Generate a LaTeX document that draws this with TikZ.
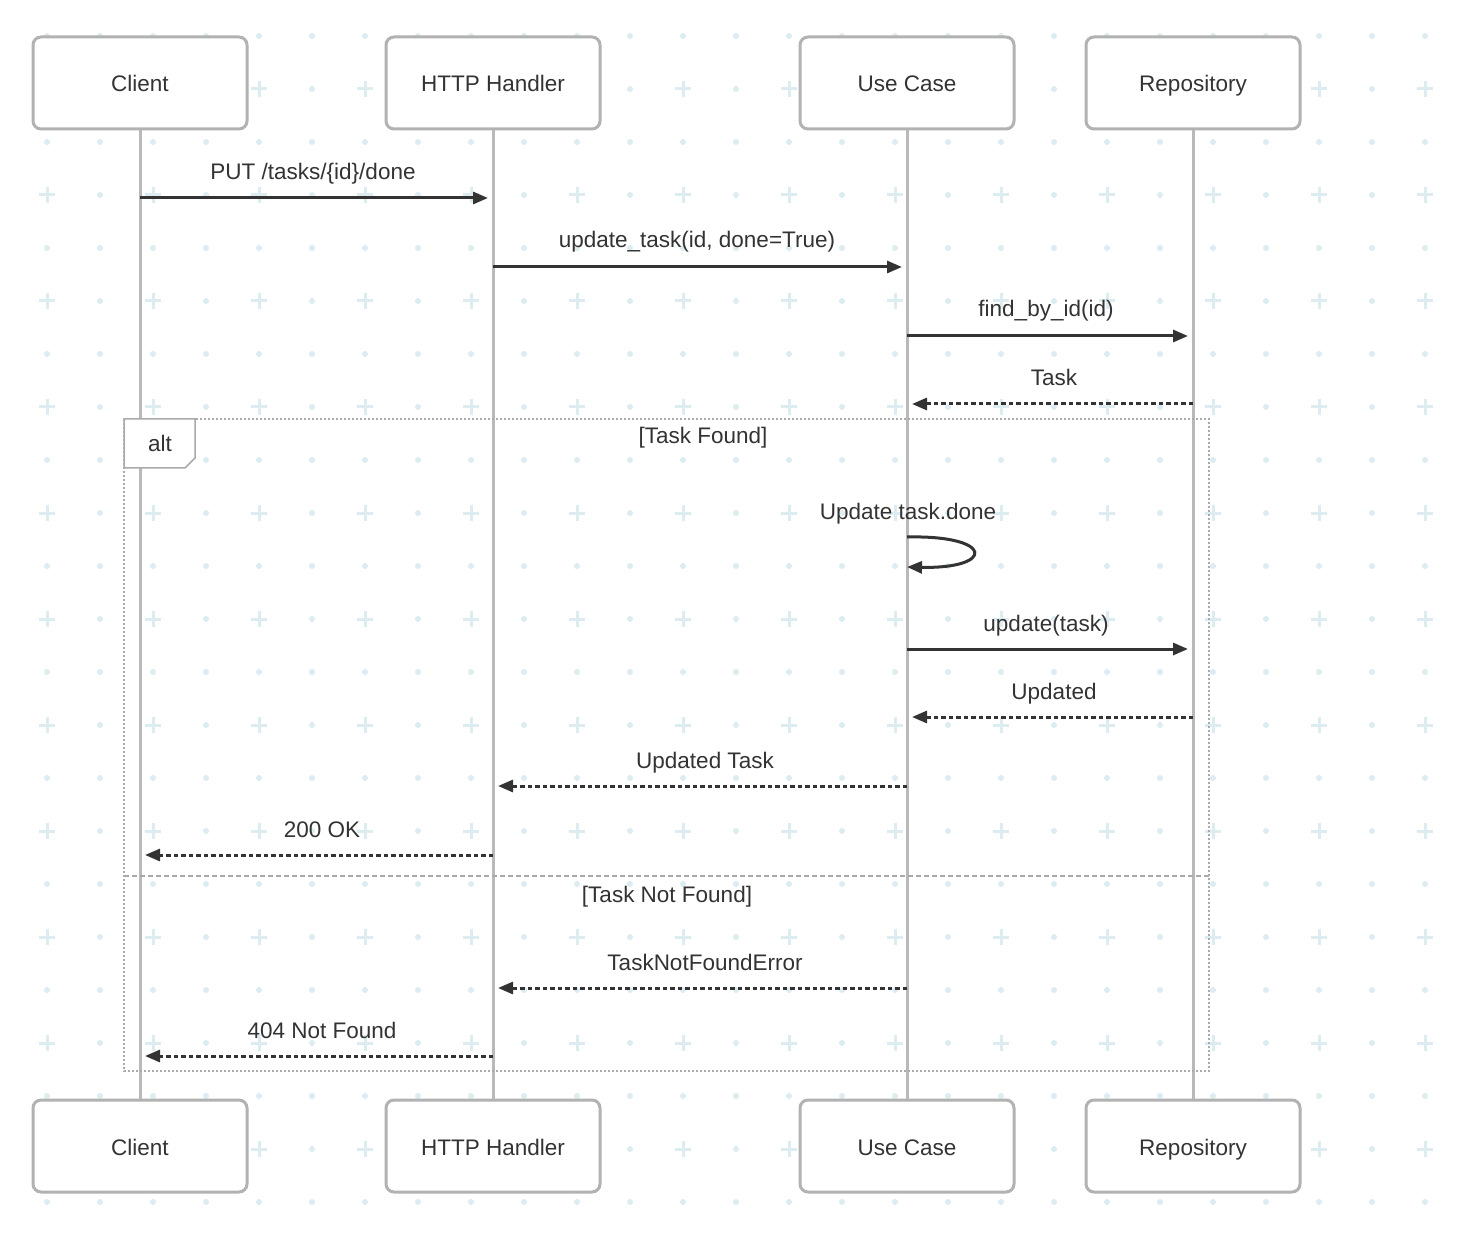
\documentclass[tikz,border=0pt]{standalone}
\usepackage{fontspec}
\setmainfont{Liberation Sans}
\usetikzlibrary{arrows.meta}
\definecolor{gridc}{RGB}{220,236,241}
\definecolor{boxc}{RGB}{178,178,178}
\definecolor{lifec}{RGB}{185,185,185}
\definecolor{inkc}{RGB}{51,51,51}
\definecolor{framec}{RGB}{170,170,170}
\begin{document}
\begin{tikzpicture}[x=1pt,y=-1pt,
  every node/.style={font=\fontsize{22.5}{27}\selectfont, text=inkc},
  actor/.style={draw=boxc, line width=3pt, rounded corners=8pt, fill=white,
    minimum width=214pt, minimum height=92pt, inner sep=0pt,
    text height=22pt, text depth=4pt},
  life/.style={draw=lifec, line width=3pt},
  msg/.style={draw=inkc, line width=3pt, -{Triangle[length=15pt,width=12pt]}, shorten >=5pt},
  reply/.style={msg, dash pattern=on 4.5pt off 3pt},
  lbl/.style={anchor=base, inner sep=0pt},
  frame/.style={draw=framec, line width=2pt, dash pattern=on 2pt off 2pt},
  divider/.style={draw=framec, line width=2pt, dash pattern=on 5pt off 3pt},
  plusmark/.style={draw=gridc, line width=3pt},
]
\useasboundingbox (0,0) rectangle (1476,1246);
\fill[white] (0,0) rectangle (1476,1246);

% dotted background grid with crosses on alternate rows
\foreach \k in {0,2,...,22}
  \foreach \i in {0,...,26}
    \fill[gridc] ({47+53*\i},{36+53*\k}) circle (3pt);
\foreach \k in {1,3,...,21} {
  \foreach \i in {1,3,...,25}
    \fill[gridc] ({47+53*\i},{36+53*\k}) circle (3pt);
  \foreach \i in {0,2,...,26} {
    \draw[plusmark] ({47+53*\i-8},{36+53*\k}) -- ({47+53*\i+8},{36+53*\k});
    \draw[plusmark] ({47+53*\i},{36+53*\k-8}) -- ({47+53*\i},{36+53*\k+8});
  }
}

% participants, top and bottom
\node[actor] (client)  at (140,83) {Client};
\node[actor] (handler) at (493,83) {HTTP Handler};
\node[actor] (usecase) at (907,83) {Use Case};
\node[actor] (repo)    at (1193,83) {Repository};
\node[actor] (clientB)  at (140,1146) {Client};
\node[actor] (handlerB) at (493,1146) {HTTP Handler};
\node[actor] (usecaseB) at (907,1146) {Use Case};
\node[actor] (repoB)    at (1193,1146) {Repository};

% lifelines
\draw[life] (client.south) -- (clientB.north);
\draw[life] (handler.south) -- (handlerB.north);
\draw[life] (usecase.south) -- (usecaseB.north);
\draw[life] (repo.south) -- (repoB.north);

% alt fragment
\draw[frame] (124,419) rectangle (1209,1071);
\draw[divider] (124,876) -- (1209,876);
\draw[draw=framec, line width=1.5pt, fill=white]
  (124,419) -- (195,419) -- (195,458) -- (185,468) -- (124,468) -- cycle;
\node[lbl] (altlbl) at (160,452) {alt};
\node[lbl] (found) at (703,444) {[Task Found]};
\node[lbl] (notfound) at (667,902) {[Task Not Found]};

% messages
\draw[msg] (client.south |- 0,198) -- (handler.south |- 0,198);
\node[lbl] (m1) at (313,180) {PUT /tasks/\{id\}/done};

\draw[msg] (handler.south |- 0,267) -- (usecase.south |- 0,267);
\node[lbl] (m2) at (697,248) {update\_task(id, done=True)};

\draw[msg] (usecase.south |- 0,336) -- (repo.south |- 0,336);
\node[lbl] (m3) at (1046,317) {find\_by\_id(id)};

\draw[reply] (repo.south |- 0,404) -- (usecase.south |- 0,404);
\node[lbl] (m4) at (1054,386) {Task};

\node[lbl] (m5) at (908,519) {Update task.done};
\draw[msg, shorten >=0pt] (usecase.south |- 0,537)
  .. controls (995,535) and (995,569) .. (usecase.south |- 0,567);

\draw[msg] (usecase.south |- 0,649) -- (repo.south |- 0,649);
\node[lbl] (m6) at (1046,631) {update(task)};

\draw[reply] (repo.south |- 0,717) -- (usecase.south |- 0,717);
\node[lbl] (m7) at (1054,699) {Updated};

\draw[reply] (usecase.south |- 0,786) -- (handler.south |- 0,786);
\node[lbl] (m8) at (705,768) {Updated Task};

\draw[reply] (handler.south |- 0,855) -- (client.south |- 0,855);
\node[lbl] (m9) at (322,837) {200 OK};

\draw[reply] (usecase.south |- 0,988) -- (handler.south |- 0,988);
\node[lbl] (m10) at (705,970) {TaskNotFoundError};

\draw[reply] (handler.south |- 0,1056) -- (client.south |- 0,1056);
\node[lbl] (m11) at (322,1038) {404 Not Found};
\end{tikzpicture}
\end{document}
